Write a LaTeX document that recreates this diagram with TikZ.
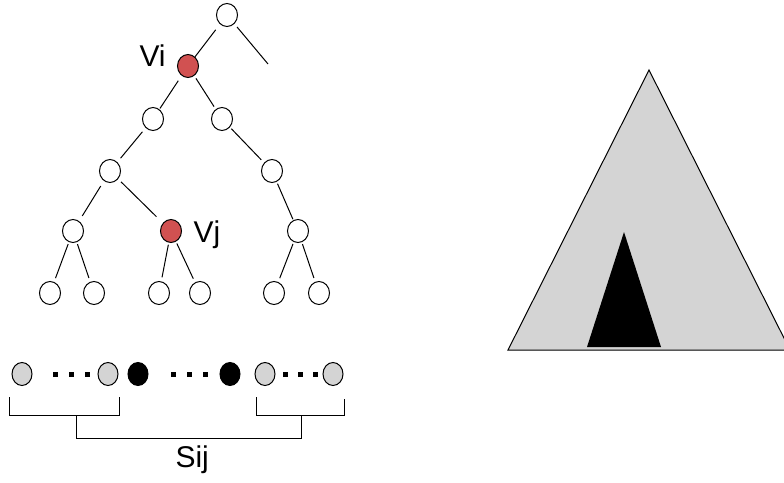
\documentclass[tikz,border=0pt]{standalone}
\usepackage{fontspec}
\setmainfont{Liberation Sans}
\usetikzlibrary{shapes.geometric}
\definecolor{vred}{RGB}{209,81,81}
\definecolor{lgray}{RGB}{212,212,212}

\begin{document}
\begin{tikzpicture}[x=1pt, y=-1pt, line width=1pt,
    vtx/.style={ellipse, draw, fill=white, minimum width=21pt, minimum height=23pt, inner sep=0pt},
    lbl/.style={anchor=base west, inner sep=0pt, font=\fontsize{30}{36}\selectfont}]
    \useasboundingbox (0,0) rectangle (784,482);
    % tree
    \node[vtx] (r) at (227,15) {};
    \path (r) ++ (-39,51) node[vtx, fill=vred] (vi) {};
    \coordinate (rr) at (268,64);
    \path (vi) ++ (-35,53) node[vtx] (a) {};
    \path (vi) ++ (34,53) node[vtx] (b) {};
    \path (a) ++ (-43,52) node[vtx] (c) {};
    \path (b) ++ (50,52) node[vtx] (d) {};
    \path (c) ++ (-37,60) node[vtx] (e) {};
    \path (c) ++ (61,60) node[vtx, fill=vred] (vj) {};
    \path (d) ++ (26,60) node[vtx] (f) {};
    \path (e) ++ (-23,62) node[vtx] (e1) {};
    \path (e) ++ (21,62) node[vtx] (e2) {};
    \path (vj) ++ (-12,62) node[vtx] (j1) {};
    \path (vj) ++ (29,62) node[vtx] (j2) {};
    \path (f) ++ (-24,62) node[vtx] (f1) {};
    \path (f) ++ (21,62) node[vtx] (f2) {};
    \draw[shorten <=7pt] (r) -- (vi);
    \draw[shorten <=4pt] (r) -- (rr);
    \draw[shorten <=6pt, shorten >=1pt] (vi) -- (a);
    \draw[shorten <=3pt, shorten >=3pt] (vi) -- (b);
    \draw[shorten <=5pt, shorten >=5pt] (a) -- (c);
    \draw[shorten <=2pt, shorten >=4pt] (b) -- (d);
    \draw[shorten <=6pt, shorten >=6pt] (c) -- (e);
    \draw[shorten <=4pt, shorten >=9pt] (c) -- (vj);
    \draw[shorten <=2pt, shorten >=1pt] (d) -- (f);
    \foreach \p/\q in {e/e1, e/e2, vj/j1, vj/j2, f/f1, f/f2}
        \draw[shorten <=2pt, shorten >=4pt] (\p) -- (\q);
    \node[lbl] (vilab) at (139,66.7) {Vi};
    \node[lbl] (vjlab) at (193,242) {Vj};
    % leaves in order
    \node[vtx, fill=lgray, minimum width=20pt] (g1) at (22,374) {};
    \node[vtx, fill=lgray, minimum width=20pt] (g2) at (108,374) {};
    \node[vtx, fill=black, minimum width=20pt] (k1) at (138,374) {};
    \node[vtx, fill=black, minimum width=20pt] (k2) at (230,374) {};
    \node[vtx, fill=lgray, minimum width=20pt] (g3) at (265,374) {};
    \node[vtx, fill=lgray, minimum width=20pt] (g4) at (333,374) {};
    \foreach \x in {55,71,87,173,189,205,285,300,315}
        \fill (\x-2.5,371.8) rectangle ++(5,5);
    \draw (9,397) |- (119,415) -- (119,397);
    \draw (256,397) |- (344,415) -- (344,399);
    \draw (76,415) |- (301,438) -- (301,415);
    \node[lbl] (sij) at (175,467) {Sij};
    % subtree
    \draw[fill=lgray] (649,70) -- (508,350) -- (790,350) -- cycle;
    \fill (624,232) -- (587,347) -- (661,347) -- cycle;
\end{tikzpicture}
\end{document}
